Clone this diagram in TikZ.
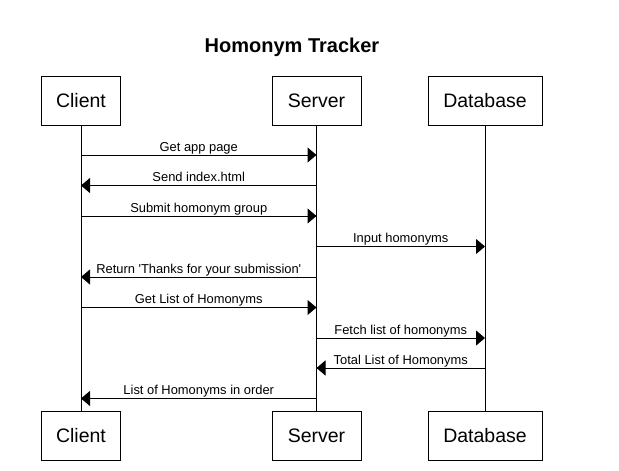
\documentclass[tikz,border=0pt]{standalone}
\usepackage{fontspec}
\setmainfont{Liberation Sans}
\usetikzlibrary{arrows.meta}
\begin{document}
\begin{tikzpicture}[x=1pt,y=-1pt,
  actor/.style={draw=black, line width=1pt, fill=white, minimum height=49pt, inner sep=0pt,
    font=\fontsize{19.5}{22}\selectfont},
  life/.style={draw=black, line width=1pt},
  msg/.style={draw=black, line width=1pt, -{Triangle[length=9pt,width=15pt]}},
  lbl/.style={anchor=base, yshift=4pt, inner sep=0pt, font=\fontsize{12.9}{15}\selectfont}
]
\useasboundingbox[fill=white] (0,0) rectangle (619,471);
\node[anchor=base, font=\bfseries\fontsize{20}{23}\selectfont] (title) at (292,52) {Homonym Tracker};
% actors
\node[actor, minimum width=79pt]  (ct) at (81,101) {Client};
\node[actor, minimum width=89pt]  (st) at (316.5,101) {Server};
\node[actor, minimum width=114pt] (dt) at (485,101) {Database};
\node[actor, minimum width=79pt]  (cb) at (81,435.5) {Client};
\node[actor, minimum width=89pt]  (sb) at (316.5,435.5) {Server};
\node[actor, minimum width=114pt] (db) at (485,435.5) {Database};
% lifelines
\draw[life] (ct.south) -- (cb.north);
\draw[life] (st.south) -- (sb.north);
\draw[life] (dt.south) -- (db.north);
% messages
\draw[msg] (ct |- 0,155) -- node[lbl]{Get app page} (st |- 0,155);
\draw[msg] (st |- 0,185.5) -- node[lbl]{Send index.html} (ct |- 0,185.5);
\draw[msg] (ct |- 0,216) -- node[lbl]{Submit homonym group} (st |- 0,216);
\draw[msg] (st |- 0,246.5) -- node[lbl]{Input homonyms} (dt |- 0,246.5);
\draw[msg] (st |- 0,277) -- node[lbl]{Return \textquotesingle Thanks for your submission\textquotesingle} (ct |- 0,277);
\draw[msg] (ct |- 0,307.5) -- node[lbl]{Get List of Homonyms} (st |- 0,307.5);
\draw[msg] (st |- 0,338) -- node[lbl]{Fetch list of homonyms} (dt |- 0,338);
\draw[msg] (dt |- 0,368) -- node[lbl]{Total List of Homonyms} (st |- 0,368);
\draw[msg] (st |- 0,398.5) -- node[lbl]{List of Homonyms in order} (ct |- 0,398.5);
\end{tikzpicture}
\end{document}
